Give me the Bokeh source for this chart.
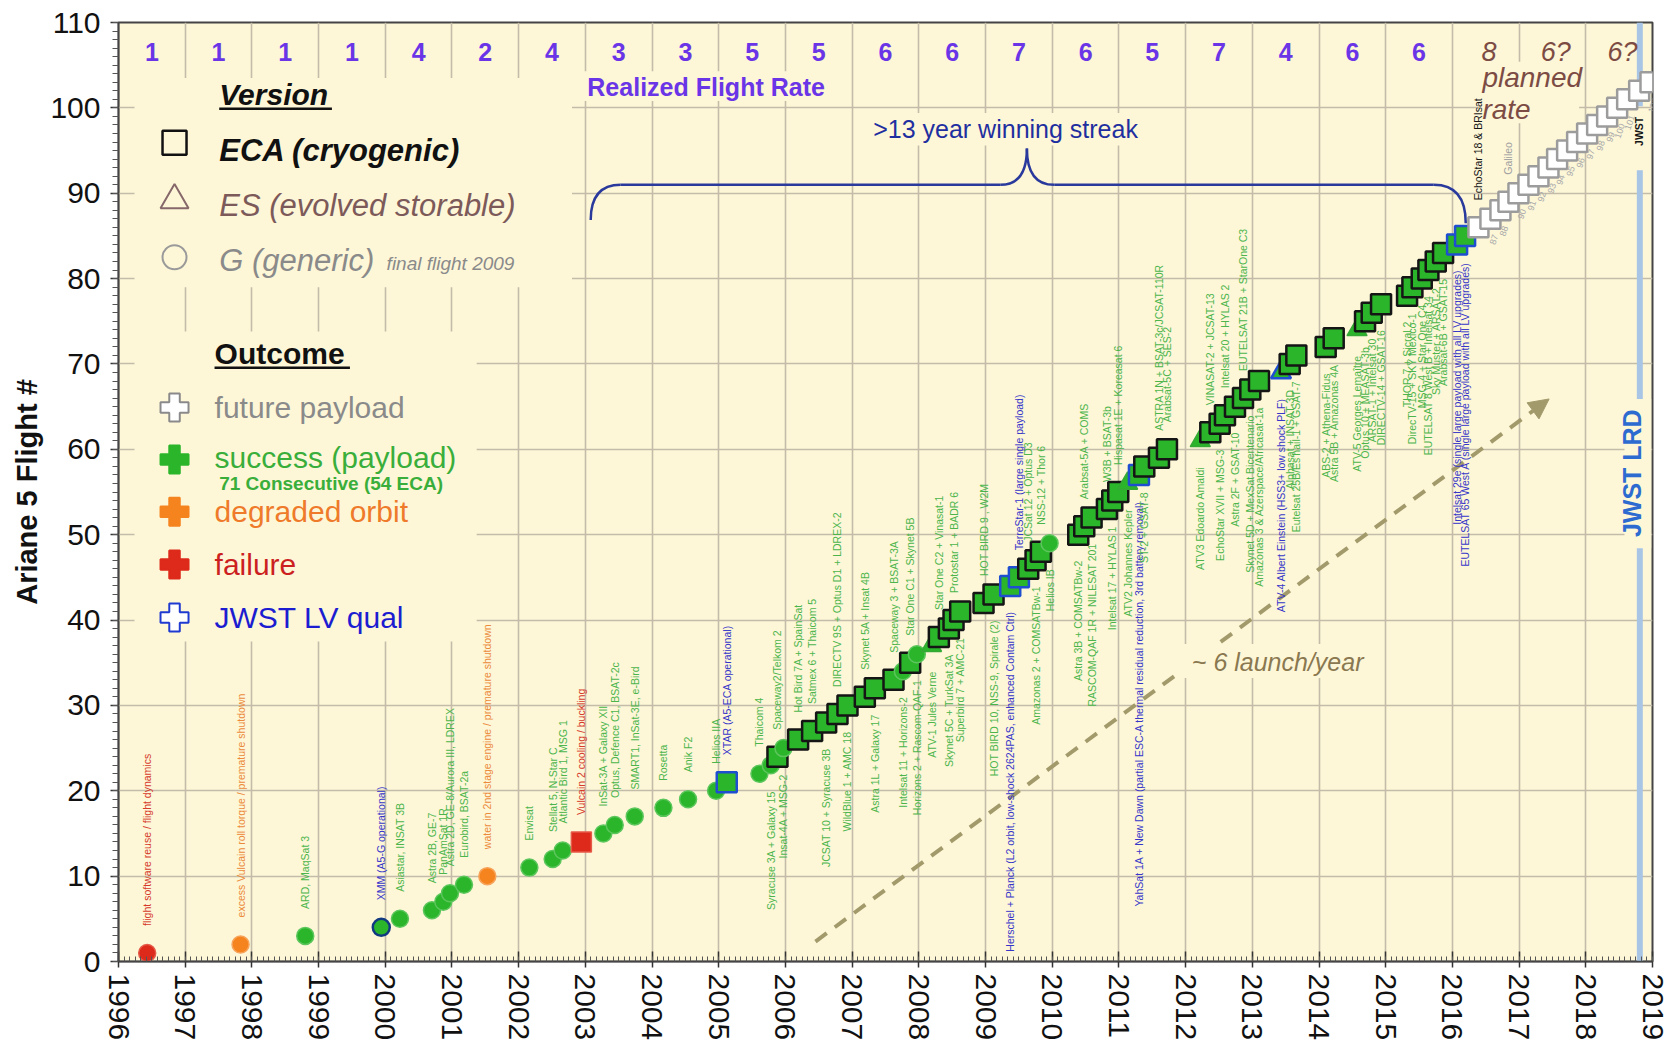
import math
from bokeh.plotting import figure
from bokeh.models import SingleIntervalTicker, ColumnDataSource, Arrow, NormalHead
from bokeh.core.properties import value
from bokeh.embed import file_html
from bokeh.resources import INLINE

FONT = "Liberation Sans"
BG = "#fdf7d8"
GRID = "#c4bca8"
GREEN = "#2bb52b"
RED = "#dd2a1a"
ORANGE = "#f5841f"
VIOLET = "#6a35e6"
BROWN = "#7c4c44"

# ---------------- data ----------------
flight_num = [1, 2, 3, 4, 5, 6, 7, 8, 9, 10,
              11, 12, 13, 14, 15, 16, 17, 18, 19, 20,
              21, 22, 23, 24, 25, 26, 27, 28, 29, 30,
              31, 32, 33, 34, 35, 36, 37, 38, 39, 40,
              41, 42, 43, 44, 45, 46, 47, 48, 49, 50,
              51, 52, 53, 54, 55, 56, 57, 58, 59, 60,
              61, 62, 63, 64, 65, 66, 67, 68, 69, 70,
              71, 72, 73, 74, 75, 76, 77, 78, 79, 80,
              81, 82, 83, 84, 85, 86, 87, 88, 89, 90,
              91, 92, 93, 94, 95, 96, 97, 98, 99, 100,
              101, 102, 103]

launch_date = [1996.43, 1997.83, 1998.80, 1999.94, 2000.22, 2000.70, 2000.87, 2000.97, 2001.18, 2001.53,
               2002.16, 2002.51, 2002.66, 2002.94, 2003.27, 2003.44, 2003.74, 2004.17, 2004.54, 2004.96,
               2005.12, 2005.61, 2005.78, 2005.88, 2005.97, 2006.19, 2006.40, 2006.61, 2006.78, 2006.93,
               2007.19, 2007.34, 2007.62, 2007.76, 2007.87, 2007.97, 2008.19, 2008.30, 2008.45, 2008.52,
               2008.62, 2008.97, 2009.12, 2009.37, 2009.50, 2009.64, 2009.75, 2009.83, 2009.96, 2010.39,
               2010.48, 2010.59, 2010.82, 2010.90, 2010.99, 2011.13, 2011.30, 2011.38, 2011.60, 2011.72,
               2012.22, 2012.37, 2012.51, 2012.59, 2012.74, 2012.86, 2012.97, 2013.10, 2013.43, 2013.56,
               2013.66, 2014.10, 2014.22, 2014.57, 2014.69, 2014.79, 2014.93, 2015.32, 2015.40, 2015.54,
               2015.64, 2015.75, 2015.86, 2016.07, 2016.19, 2016.39, 2016.57, 2016.72, 2016.84, 2016.99,
               2017.14, 2017.29, 2017.44, 2017.57, 2017.72, 2017.87, 2018.02, 2018.17, 2018.32, 2018.47,
               2018.62, 2018.80, 2018.97]

version = ["G", "G", "G", "G", "G", "G", "G", "G", "G", "G",
           "G", "G", "G", "ECA", "G", "G", "G", "G", "G", "G",
           "ECA", "G", "G", "ECA", "G", "ECA", "ECA", "ECA", "ECA", "ECA",
           "ECA", "ECA", "ECA", "G", "ECA", "G", "ES", "ECA", "ECA", "ECA",
           "ECA", "ECA", "ECA", "ECA", "ECA", "ECA", "ECA", "ECA", "G", "ECA",
           "ECA", "ECA", "ECA", "ECA", "ECA", "ES", "ECA", "ECA", "ECA", "ECA",
           "ES", "ECA", "ECA", "ECA", "ECA", "ECA", "ECA", "ECA", "ES", "ECA",
           "ECA", "ECA", "ECA", "ES", "ECA", "ECA", "ECA", "ECA", "ECA", "ECA",
           "ECA", "ECA", "ECA", "ECA", "ECA", "ECA", "ECA", "ECA", "ECA", "ECA",
           "ECA", "ECA", "ECA", "ECA", "ECA", "ECA", "ECA", "ECA", "ECA", "ECA",
           "ECA", "ECA", "ECA"]

outcome = ["fail", "degr", "ok", "qual", "ok", "ok", "ok", "ok", "ok", "degr",
           "ok", "ok", "ok", "fail", "ok", "ok", "ok", "ok", "ok", "ok",
           "qual", "ok", "ok", "ok", "ok", "ok", "ok", "ok", "ok", "ok",
           "ok", "ok", "ok", "ok", "ok", "ok", "ok", "ok", "ok", "ok",
           "ok", "ok", "ok", "qual", "qual", "ok", "ok", "ok", "ok", "ok",
           "ok", "ok", "ok", "ok", "ok", "ok", "qual", "ok", "ok", "ok",
           "ok", "ok", "ok", "ok", "ok", "ok", "ok", "ok", "qual", "ok",
           "ok", "ok", "ok", "ok", "ok", "ok", "ok", "ok", "ok", "ok",
           "ok", "ok", "ok", "qual", "qual", "future", "future", "future", "future", "future",
           "future", "future", "future", "future", "future", "future", "future", "future", "future", "future",
           "future", "future", "future"]

payload_label = [
    "flight software reuse / flight dynamics",
    "excess Vulcain roll torque / premature shutdown",
    "ARD, MaqSat 3",
    "XMM (A5-G operational)",
    "Asiastar, INSAT 3B",
    "Astra 2B, GE-7",
    "PanAmSat 1R",
    "Astra 2D, GE-8/Aurora III, LDREX",
    "Eurobird, BSAT-2a",
    "water in 2nd stage engine / premature shutdown",
    "Envisat",
    "Stellat 5, N-Star C",
    "Atlantic Bird 1, MSG 1",
    "Vulcain 2 cooling / buckling",
    "InSat-3A + Galaxy XII",
    "Optus, Defence C1, BSAT-2c",
    "SMART1, InSat-3E, e-Bird",
    "Rosetta",
    "Anik F2",
    "Helios IIA",
    "XTAR (A5-ECA operational)",
    "Thaicom 4",
    "Syracuse 3A + Galaxy 15",
    "Spaceway2/Telkom 2",
    "Insat-4A + MSG-2",
    "Hot Bird 7A + SpainSat",
    "Satmex 6 + Thaicom 5",
    "JCSAT 10 + Syracuse 3B",
    "DIRECTV 9S + Optus D1 + LDREX-2",
    "WildBlue 1 + AMC 18",
    "Skynet 5A + Insat 4B",
    "Astra 1L + Galaxy 17",
    "Spaceway 3 + BSAT-3A",
    "Intelsat 11 + Horizons-2",
    "Star One C1 + Skynet 5B",
    "Horizons 2 + Rascom-QAF-1",
    "ATV-1 Jules Verne",
    "Star One C2 + Vinasat-1",
    "Skynet 5C + TurkSat 3A",
    "Protostar 1 + BADR 6",
    "Superbird 7 + AMC-21",
    "HOT BIRD 9 , W2M",
    "HOT BIRD 10, NSS-9, Spirale (2)",
    "Herschel + Planck (L2 orbit, low-shock 2624PAS, enhanced Contam Ctrl)",
    "TerreStar-1 (large single payload)",
    "JCSat 12 + Optus D3",
    "Amazonas 2 + COMSATBw-1",
    "NSS-12 + Thor 6",
    "Helios IB",
    "Astra 3B + COMSATBw-2",
    "Arabsat-5A + COMS",
    "RASCOM-QAF 1R + NILESAT 201",
    "W3B + BSAT-3b",
    "Intelsat 17 + HYLAS 1",
    "Hispasat 1E + Koreasat 6",
    "ATV2 Johannes Kepler",
    "YahSat 1A + New Dawn (partial ESC-A thermal residual reduction, 3rd battery removal)",
    "ST-2 + GSAT-8",
    "ASTRA 1N + BSAT-3c/JCSAT-110R",
    "Arabsat-5C + SES-2",
    "ATV3 Edoardo Amaldi",
    "VINASAT-2 + JCSAT-13",
    "EchoStar XVII + MSG-3",
    "Intelsat 20 + HYLAS 2",
    "Astra 2F + GSAT-10",
    "EUTELSAT 21B + StarOne C3",
    "Skynet 5D + MexSat Bicentenario",
    "Amazonas 3 & Azerspace/Africasat-1a",
    "ATV-4 Albert Einstein (HSS3+ low shock PLF)",
    "Alphasat + INSAT-3D",
    "Eutelsat 25B/Es'hail-1 + GSAT-7",
    "ABS-2 + Athena-Fidus",
    "Astra 5B + Amazonas 4A",
    "ATV-5 Georges Lemaître",
    "Optus 10 + MEASAT-3b",
    "ARSAT-1 + Intelsat 30",
    "DIRECTV-14 + GSAT-16",
    "THOR 7 + Sicral 2",
    "DirecTV-15 + SKY Mexico-1",
    "MSG-4 + Star One C4",
    "EUTELSAT 8 West B + Intelsat 34",
    "Sky Muster + ARSAT-2",
    "Arabsat-6B + GSAT-15",
    "Intelsat 29e (single large payload with all LV upgrades)",
    "EUTELSAT 65 West A (single large payload with all LV upgrades)",
    "EchoStar 18 & BRIsat",
    "87", "88", "Galileo", "90", "91", "92", "93", "94", "95", "96", "97",
    "98", "99", "100", "101", "JWST", "103",
]

label_side = [
    "a", "a", "a", "a", "a", "a", "a", "a", "a", "a",
    "a", "a", "a", "a", "a", "a", "a", "a", "a", "a",
    "a", "a", "b", "a", "b", "a", "a", "b", "a", "b",
    "a", "b", "a", "b", "a", "b", "b", "a", "b", "a",
    "b", "a", "b", "b", "a", "a", "b", "a", "b", "b",
    "a", "b", "a", "b", "a", "b", "b", "b", "a", "a",
    "b", "a", "b", "a", "b", "a", "b", "b", "b", "b",
    "b", "b", "b", "b", "b", "b", "b", "b", "b", "b",
    "b", "b", "b", "b", "b", "a", "n", "n", "a", "n",
    "n", "n", "n", "n", "n", "n", "n", "n", "n", "n",
    "n", "b", "n"]

rate_years = [1996, 1997, 1998, 1999, 2000, 2001, 2002, 2003, 2004, 2005,
              2006, 2007, 2008, 2009, 2010, 2011, 2012, 2013, 2014, 2015]
realized_rate = ["1", "1", "1", "1", "4", "2", "4", "3", "3", "5",
                 "5", "6", "6", "7", "6", "5", "7", "4", "6", "6"]
plan_years = [2016, 2017, 2018]
planned_rate = ["8", "6?", "6?"]

jwst_lrd = 2018.81

# ---------------- figure ----------------
p = figure(x_range=(1996, 2019), y_range=(0, 110),
           frame_width=1534, frame_height=939,
           min_border_left=118, min_border_right=17, min_border_top=22, min_border_bottom=80,
           output_backend="svg", toolbar_location=None,
           background_fill_color=BG, border_fill_color="white")
p.outline_line_color = "#444444"
p.outline_line_width = 2

p.xaxis.ticker = SingleIntervalTicker(interval=1, num_minor_ticks=12)
p.yaxis.ticker = SingleIntervalTicker(interval=10, num_minor_ticks=10)
p.xgrid.ticker = SingleIntervalTicker(interval=1)
p.ygrid.ticker = SingleIntervalTicker(interval=10)
for g in (p.xgrid, p.ygrid):
    g.grid_line_color = GRID
    g.grid_line_width = 1.6

for ax in (p.xaxis, p.yaxis):
    ax.major_label_text_font = FONT
    ax.major_label_text_font_size = "30px"
    ax.major_label_text_color = "#111111"
    ax.axis_line_color = "#444444"
    ax.axis_line_width = 1.5
    ax.major_tick_line_color = "#333333"
    ax.minor_tick_line_color = "#555555"
    ax.major_tick_line_width = 1.5

p.xaxis.major_label_orientation = "vertical"
p.xaxis.major_tick_in = 10
p.xaxis.major_tick_out = 6
p.xaxis.minor_tick_in = 5
p.xaxis.minor_tick_out = 0
p.xaxis.major_label_standoff = 6

p.yaxis.major_tick_in = 0
p.yaxis.major_tick_out = 8
p.yaxis.minor_tick_in = 0
p.yaxis.minor_tick_out = 6
p.yaxis.major_label_standoff = 10
p.yaxis.axis_label = "Ariane 5 Flight #"
p.yaxis.axis_label_text_font = FONT
p.yaxis.axis_label_text_font_size = "29px"
p.yaxis.axis_label_text_font_style = "bold"
p.yaxis.axis_label_text_color = "#111111"
p.yaxis.axis_label_standoff = 4


def txt(x, y, s, size, color, style="normal", align="left", baseline="middle", angle=0.0):
    p.text(x=[x], y=[y], text=[s], text_font=value(FONT), text_font_size=value(f"{size}px"),
           text_color=color, text_font_style=style, text_align=align,
           text_baseline=baseline, angle=angle)


# ---------------- dashed "~6 launch/year" arrow (under everything) ----------------
arrow = Arrow(x_start=2006.45, y_start=2.34, x_end=2017.45, y_end=65.9,
              line_color="#a39a6c", line_width=4, line_dash="14 10", level="underlay",
              end=NormalHead(size=20, fill_color="#a39a6c", line_color="#a39a6c"))
p.add_layout(arrow)

# ---------------- background boxes that mask grid lines ----------------
box_left = [1996.24, 1996.24, 2002.85, 2007.10, 2011.85, 2016.40, 2018.58]
box_right = [2002.80, 2001.37, 2006.80, 2011.50, 2014.85, 2017.90, 2018.98]
box_bottom = [79.0, 37.5, 100.8, 95.6, 33.2, 98.2, 48.4]
box_top = [103.5, 73.8, 104.3, 99.4, 37.2, 105.4, 65.9]
p.quad(left=box_left, right=box_right, bottom=box_bottom, top=box_top,
       fill_color=BG, line_color=None)

# JWST launch-readiness line (segments around its labels)
p.segment(x0=[jwst_lrd] * 3, x1=[jwst_lrd] * 3, y0=[110, 92.7, 48.4], y1=[100.2, 65.9, 0],
          line_color="#a9c5e6", line_width=6)

# ---------------- brace ----------------
BRACE = "#2a3a9c"
p.quadratic(x0=[2003.08, 2009.22, 2009.62, 2015.72], y0=[86.86, 90.98, 95.25, 90.98],
            x1=[2003.53, 2009.62, 2010.03, 2016.20], y1=[90.98, 95.25, 90.98, 86.48],
            cx=[2003.08, 2009.62, 2009.62, 2016.20], cy=[90.98, 90.98, 90.98, 90.98],
            line_color=BRACE, line_width=2.5)
p.segment(x0=[2003.53, 2010.03], y0=[90.98, 90.98], x1=[2009.22, 2015.72], y1=[90.98, 90.98],
          line_color=BRACE, line_width=2.5)

# ---------------- flight markers ----------------
marker_of = {"G": "circle", "ECA": "square", "ES": "triangle"}
size_of = {"G": 17, "ECA": 20, "ES": 20}
fill_of = {"ok": GREEN, "fail": RED, "degr": ORANGE, "qual": GREEN, "future": "white"}

mk, sz, fc, lc, lw = [], [], [], [], []
for v, o in zip(version, outcome):
    mk.append(marker_of[v])
    sz.append(size_of[v])
    fc.append(fill_of[o])
    if o == "qual":
        lc.append("#123a80" if v == "G" else "#1f4fd0")
        lw.append(2.5)
    elif o == "future":
        lc.append("#9c9c9c")
        lw.append(2.5)
    elif o == "fail":
        lc.append("#e65a48")
        lw.append(1.5)
    elif o == "degr":
        lc.append("#f7a35a")
        lw.append(1.5)
    elif v == "ECA":
        lc.append("#151515")
        lw.append(2.5)
    elif v == "G":
        lc.append("#5cc65c")
        lw.append(1.5)
    else:
        lc.append("#36a836")
        lw.append(1.5)

src = ColumnDataSource(dict(x=launch_date, y=flight_num, marker=mk, size=sz, fill=fc, line=lc, lw=lw))
p.scatter(x="x", y="y", source=src, marker="marker", size="size", fill_color="fill",
          line_color="line", line_width="lw")

# ---------------- payload labels ----------------
label_col = {"ok": "#4bb54b", "qual": "#3636c8", "fail": "#d63a2a", "degr": "#ec8a3a"}
above = dict(x=[], y=[], text=[], color=[], style=[])
below = dict(x=[], y=[], text=[], color=[], style=[])
nums = dict(x=[], y=[], text=[])
for x, y, s, side, o in zip(launch_date, flight_num, payload_label, label_side, outcome):
    if side == "n":
        nums["x"].append(x); nums["y"].append(y); nums["text"].append(s)
        continue
    if o == "future":
        col = "#a0a0a0" if s == "Galileo" else "#151515"
    else:
        col = label_col[o]
    st = "bold" if s == "JWST" else "normal"
    d = above if side == "a" else below
    d["x"].append(x); d["y"].append(y); d["text"].append(s); d["color"].append(col); d["style"].append(st)

p.text(x="x", y="y", text="text", source=ColumnDataSource(above), angle=math.pi / 2,
       text_align="left", text_baseline="middle", y_offset=-27,
       text_font=value(FONT), text_font_size=value("10.5px"), text_color="color",
       text_font_style="style")
p.text(x="x", y="y", text="text", source=ColumnDataSource(below), angle=math.pi / 2,
       text_align="right", text_baseline="middle", y_offset=26,
       text_font=value(FONT), text_font_size=value("10.5px"), text_color="color",
       text_font_style="style")
p.text(x="x", y="y", text="text", source=ColumnDataSource(nums), angle=math.radians(72),
       text_align="right", text_baseline="middle", y_offset=16, x_offset=5,
       text_font=value(FONT), text_font_size=value("9px"), text_color="#a8a8a8")

# ---------------- flight-rate row ----------------
p.text(x=[yr + 0.5 for yr in rate_years], y=[106.6] * len(rate_years), text=realized_rate,
       text_font=value(FONT), text_font_size=value("25px"), text_font_style="bold",
       text_color=VIOLET, text_align="center", text_baseline="middle")
p.text(x=[yr + 0.55 for yr in plan_years], y=[106.6] * len(plan_years), text=planned_rate,
       text_font=value(FONT), text_font_size=value("27px"), text_font_style="italic",
       text_color=BROWN, text_align="center", text_baseline="middle")
txt(2004.81, 102.5, "Realized Flight Rate", 25, VIOLET, "bold", "center")
txt(2016.45, 103.5, "planned", 28, BROWN, "italic")
txt(2016.45, 99.8, "rate", 28, BROWN, "italic")
txt(2009.30, 97.5, ">13 year winning streak", 25, "#1f2f9f", "normal", "center")
txt(2013.38, 35.1, "~ 6 launch/year", 25, "#8a7850", "italic", "center")
txt(2018.70, 57.2, "JWST LRD", 25, "#2d6bd0", "bold", "center", "middle", math.pi / 2)

# ---------------- legend (drawn) ----------------
lx = 1996.84
tx = 1997.51
p.scatter(x=[lx], y=[95.9], marker="square", size=24, fill_color=None, line_color="#111111", line_width=2.5)
p.scatter(x=[lx], y=[89.2], marker="triangle", size=28, fill_color=None, line_color="#86686a", line_width=2)
p.scatter(x=[lx], y=[82.5], marker="circle", size=24, fill_color=None, line_color="#9a9a9a", line_width=2)
txt(tx, 101.6, "Version", 30, "#111111", "bold italic")
p.segment(x0=[tx], x1=[1999.20], y0=[99.9], y1=[99.9], line_color="#111111", line_width=2.5)
txt(tx, 95.0, "ECA (cryogenic)", 31, "#111111", "bold italic")
txt(tx, 88.6, "ES (evolved storable)", 31, "#7d5a5a", "italic")
txt(tx, 82.1, "G (generic)", 31, "#8a8a8a", "italic")
txt(2000.02, 81.8, "final flight 2009", 19, "#8a8a8a", "italic")

txt(1997.44, 71.2, "Outcome", 30, "#111111", "bold")
p.segment(x0=[1997.44], x1=[1999.47], y0=[69.55], y1=[69.55], line_color="#111111", line_width=2.5)
p.scatter(x=[lx] * 5, y=[64.9, 58.8, 52.7, 46.5, 40.3], marker="plus", size=28,
          fill_color=["white", GREEN, ORANGE, RED, "white"],
          line_color=["#8a8a8a", GREEN, ORANGE, RED, "#1f3ad0"], line_width=2)
txt(1997.44, 64.9, "future payload", 30, "#8a8a8a")
txt(1997.44, 59.0, "success (payload)", 30, "#3aae3a")
txt(1997.51, 56.0, "71 Consecutive (54 ECA)", 19, "#3aae3a", "bold")
txt(1997.44, 52.7, "degraded orbit", 30, "#ee7a2a")
txt(1997.44, 46.5, "failure", 30, "#cc1f1f")
txt(1997.44, 40.3, "JWST LV qual", 30, "#1c1cd0")

open("out.html", "w").write(file_html(p, INLINE))
